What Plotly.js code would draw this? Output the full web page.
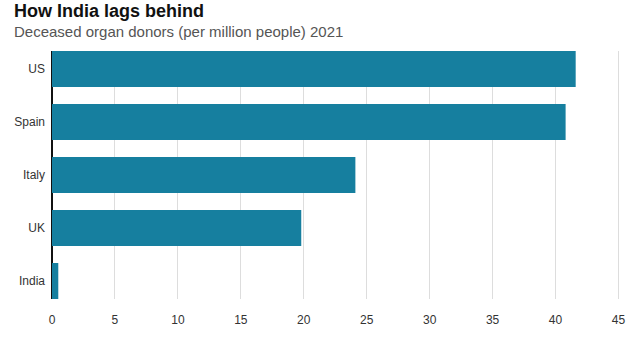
<!DOCTYPE html>
<html>
<head>
<meta charset="utf-8">
<script src="https://cdn.plot.ly/plotly-3.0.1.min.js"></script>
<style>html,body{margin:0;padding:0;background:#fff}#chart{width:640px;height:338px}</style>
</head>
<body>
<div id="chart"></div>
<script>
const countries = ["US", "Spain", "Italy", "UK", "India"];
const donorsPerMillion = [41.6, 40.8, 24.1, 19.8, 0.5];
const xTicks = [0, 5, 10, 15, 20, 25, 30, 35, 40, 45];

const titleText = "How India lags behind";
const subtitleText = "Deceased organ donors (per million people) 2021";

const FONT = "Liberation Sans, Arial, Helvetica, sans-serif";

const data = [{
  type: "bar",
  orientation: "h",
  y: countries,
  x: donorsPerMillion,
  marker: {color: "#167f9f"},
  hoverinfo: "x+y"
}];

const layout = {
  width: 640,
  height: 338,
  margin: {l: 52, r: 19, t: 51, b: 39},
  paper_bgcolor: "#fff",
  plot_bgcolor: "#fff",
  bargap: 0.32,
  showlegend: false,
  font: {family: FONT, color: "#333", size: 12},
  xaxis: {
    range: [0, 45.2],
    tickvals: xTicks,
    ticktext: xTicks.map(String),
    showgrid: true,
    gridcolor: "#dddddd",
    gridwidth: 1,
    zeroline: true,
    zerolinecolor: "#111",
    zerolinewidth: 2,
    showline: false,
    ticks: "",
    ticklabelstandoff: 12,
    tickfont: {family: FONT, size: 12, color: "#333"},
    fixedrange: true
  },
  yaxis: {
    type: "category",
    categoryorder: "array",
    categoryarray: countries,
    range: [4.34, -0.34],
    showgrid: false,
    zeroline: false,
    showline: false,
    ticks: "",
    ticklabelstandoff: 6,
    tickfont: {family: FONT, size: 12, color: "#333"},
    fixedrange: true
  },
  annotations: [
    {
      text: "<b>" + titleText + "</b>",
      xref: "paper", yref: "paper",
      x: 0, y: 1, xanchor: "left", yanchor: "middle",
      xshift: -40, yshift: 40,
      showarrow: false,
      font: {family: FONT, size: 18, color: "#111"}
    },
    {
      text: subtitleText,
      xref: "paper", yref: "paper",
      x: 0, y: 1, xanchor: "left", yanchor: "middle",
      xshift: -40, yshift: 20,
      showarrow: false,
      font: {family: FONT, size: 15, color: "#555"}
    }
  ]
};

Plotly.newPlot("chart", data, layout, {displayModeBar: false, staticPlot: true});
</script>
</body>
</html>
